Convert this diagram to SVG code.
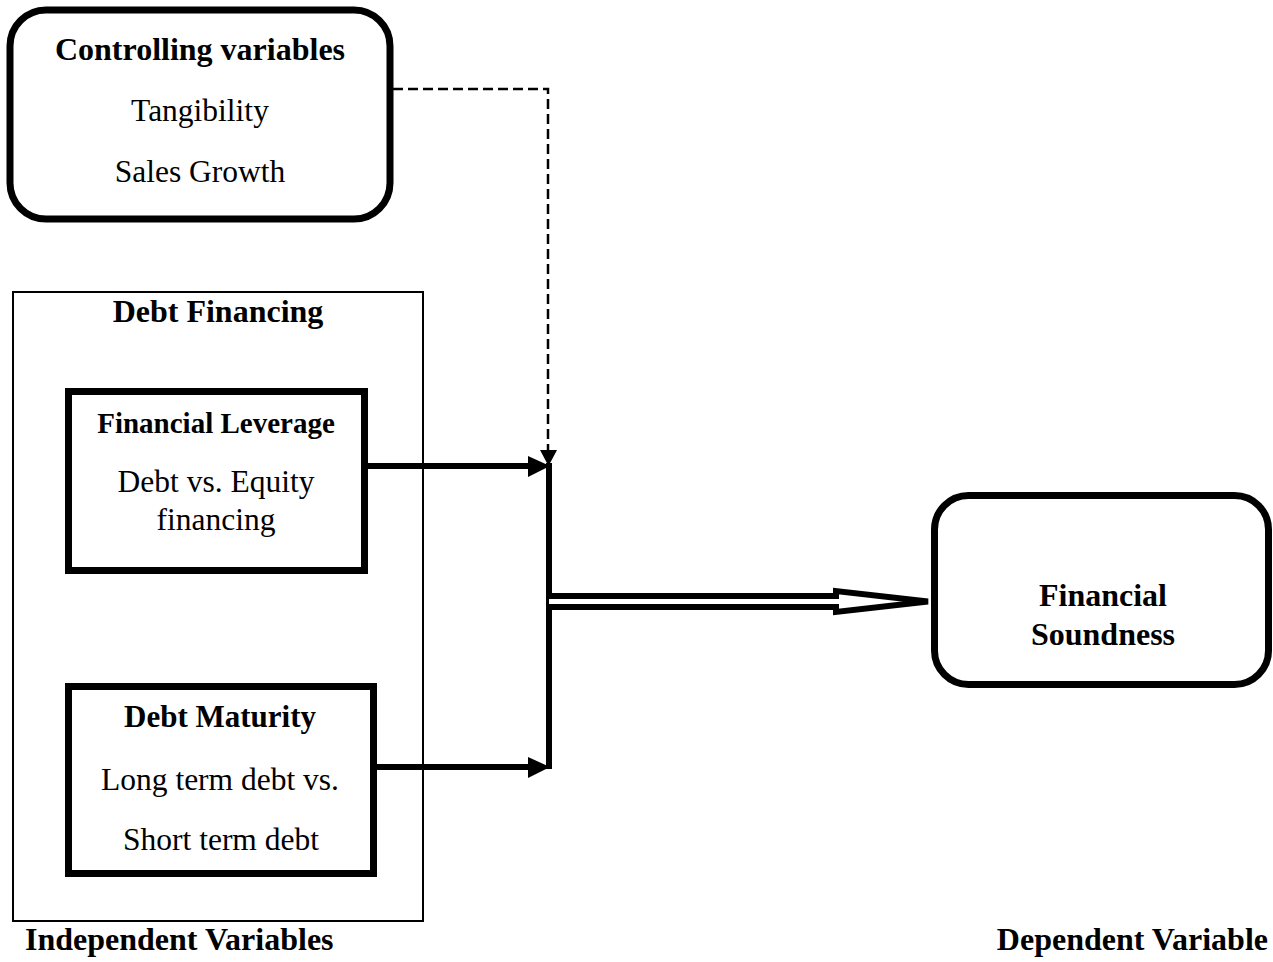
<svg xmlns="http://www.w3.org/2000/svg" width="1273" height="962" viewBox="0 0 1273 962">
<style>
text { font-family: "Liberation Serif", "Times New Roman", serif; fill: #000; text-anchor: middle; }
.b { font-weight: bold; font-size: 32px; }
.r { font-size: 31.5px; }
.box { fill: #fff; stroke: #000; stroke-width: 7; }
.thin { fill: none; stroke: #000; stroke-width: 2; }
.conn { fill: none; stroke: #000; stroke-width: 6; }
.dash { fill: none; stroke: #000; stroke-width: 2.5; stroke-dasharray: 10 5; }
</style>
<rect width="1273" height="962" fill="#fff"/>
<g id="independent-group">
  <rect class="thin" x="13" y="292" width="410" height="629"/>
  <text class="b" x="218" y="322">Debt Financing</text>
  <text class="b" x="25" y="950" style="text-anchor:start">Independent Variables</text>
</g>
<g id="controlling">
  <rect class="box" x="10" y="10" width="380" height="209" rx="36" ry="36"/>
  <text class="b" x="200" y="60">Controlling variables</text>
  <text class="r" x="200" y="121">Tangibility</text>
  <text class="r" x="200" y="182">Sales Growth</text>
</g>
<g id="financial-leverage">
  <rect class="box" x="68.5" y="391.5" width="296" height="179"/>
  <text class="b" x="216" y="433" style="font-size:29px">Financial Leverage</text>
  <text class="r" x="216" y="492">Debt vs. Equity</text>
  <text class="r" x="216" y="530">financing</text>
</g>
<g id="debt-maturity">
  <rect class="box" x="68.5" y="686.5" width="305" height="187"/>
  <text class="b" x="220" y="727" style="font-size:31px">Debt Maturity</text>
  <text class="r" x="220" y="790">Long term debt vs.</text>
  <text class="r" x="221" y="850">Short term debt</text>
</g>
<g id="financial-soundness">
  <rect class="box" x="934.5" y="495.5" width="334" height="189" rx="34" ry="34"/>
  <text class="b" x="1103" y="606">Financial</text>
  <text class="b" x="1103" y="645">Soundness</text>
  <text class="b" x="1268" y="950" style="text-anchor:end">Dependent Variable</text>
</g>
<g id="connectors">
  <path class="dash" d="M393 89 H548 V451"/>
  <polygon points="540,450 557,450 548.5,466" fill="#000"/>
  <line class="conn" x1="365" y1="466" x2="532" y2="466"/>
  <polygon points="528,456 550,466 528,477" fill="#000"/>
  <line class="conn" x1="374" y1="767" x2="532" y2="767"/>
  <polygon points="528,757 550,767 528,778" fill="#000"/>
  <line class="conn" x1="549" y1="463" x2="549" y2="769"/>
  <path d="M549 596 H836 V591 L928 601.5 L836 612 V607 H549" fill="#fff" stroke="#000" stroke-width="6"/>
</g>
</svg>
